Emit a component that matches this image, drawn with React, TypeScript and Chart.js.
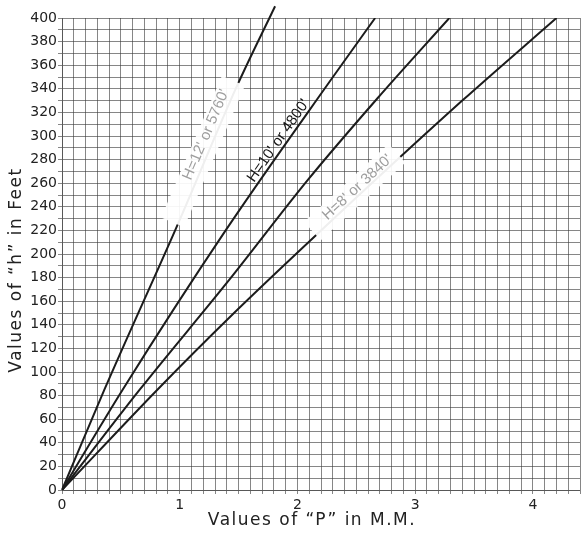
import React, { useEffect, useRef } from "react";
import { Chart, registerables } from "chart.js";

Chart.register(...registerables);

// Axis ranges / ticks
const xMin = 0;
const xMax = 4.4;
const xStep = 0.1;
const yMin = 0;
const yMax = 400;
const yStep = 10;
const yLabelEvery = 20;

// Axis titles
const xTitle = "Values of \u201CP\u201D in M.M.";
const yTitle = "Values of \u201Ch\u201D in Feet";

// Curve data (P in M.M. vs h in feet)
const h12P = [0, 0.36, 1.0, 1.48, 1.81];
const h12H = [0, 85, 229, 341, 410];
const h10P = [0, 0.515, 1.39, 2.28, 2.66];
const h10H = [0, 85, 220, 347, 400];
const h9P = [0, 0.66, 1.42, 2.09, 2.68, 3.29];
const h9H = [0, 85, 178, 263, 332, 400];
const h8P = [0, 0.81, 1.42, 2.18, 3.4, 4.2];
const h8H = [0, 85, 146, 218, 330, 400];

// Line labels
const labelTexts = ["H=12' or 5760'", "H=10' or 4800'", "H=8' or 3840'"];
const labelLineIdx = [0, 1, 3];
const labelAtH = [298, 292, 252];
const labelStripFrom = [225, null, 216];
const labelStripTo = [345, null, 282];

const lines = [
  { p: h12P, h: h12H },
  { p: h10P, h: h10H },
  { p: h9P, h: h9H },
  { p: h8P, h: h8H },
];

function interpP(ps: number[], hs: number[], h: number) {
  for (let i = 1; i < hs.length; i++) {
    if (h <= hs[i]) {
      const t = (h - hs[i - 1]) / (hs[i] - hs[i - 1]);
      return ps[i - 1] + t * (ps[i] - ps[i - 1]);
    }
  }
  const n = hs.length - 1;
  const t = (h - hs[n - 1]) / (hs[n] - hs[n - 1]);
  return ps[n - 1] + t * (ps[n] - ps[n - 1]);
}

const labelStyles = [
  { color: "#9e9e9e", off: 5, font: "15px 'Liberation Sans'" },
  { color: "#141414", off: 4, font: "15px 'Liberation Sans'" },
  { color: "#9e9e9e", off: 3, font: "15px 'Liberation Sans'" },
];

const labelPlugin = {
  id: "lineLabels",
  afterDatasetsDraw(chart: any) {
    const { ctx, scales } = chart;
    const xs = scales.x;
    const ys = scales.y;
    labelTexts.forEach((text, i) => {
      const ln = lines[labelLineIdx[i]];
      const pt = (h: number) => ({
        x: xs.getPixelForValue(interpP(ln.p, ln.h, h)),
        y: ys.getPixelForValue(h),
      });
      const sf = labelStripFrom[i];
      const st = labelStripTo[i];
      if (sf !== null && st !== null) {
        const a = pt(sf);
        const b = pt(st);
        const ang = Math.atan2(b.y - a.y, b.x - a.x);
        const len = Math.hypot(b.x - a.x, b.y - a.y);
        ctx.save();
        ctx.translate(a.x, a.y);
        ctx.rotate(ang);
        ctx.fillStyle = "rgba(255,255,255,0.93)";
        ctx.fillRect(0, -18, len, 25);
        ctx.restore();
      }
      const c = pt(labelAtH[i]);
      const c1 = pt(labelAtH[i] - 15);
      const c2 = pt(labelAtH[i] + 15);
      const ang = Math.atan2(c2.y - c1.y, c2.x - c1.x);
      const st2 = labelStyles[i];
      ctx.save();
      ctx.translate(c.x, c.y);
      ctx.rotate(ang);
      ctx.font = st2.font;
      ctx.fillStyle = st2.color;
      ctx.textAlign = "center";
      ctx.textBaseline = "alphabetic";
      ctx.fillText(text, 0, -st2.off);
      ctx.restore();
    });
  },
};

const titlePlugin = {
  id: "axisTitles",
  afterDraw(chart: any) {
    const { ctx, chartArea } = chart;
    ctx.save();
    ctx.font = "17px 'DejaVu Sans'";
    ctx.fillStyle = "#222";
    ctx.textAlign = "center";
    ctx.textBaseline = "middle";
    try {
      (ctx as any).letterSpacing = "1.5px";
    } catch (e) {}
    ctx.fillText(xTitle, chartArea.left + 250, 521);
    ctx.translate(17, 270);
    ctx.rotate(-Math.PI / 2);
    ctx.fillText(yTitle, 0, 0);
    ctx.restore();
  },
};

export default function App() {
  const ref = useRef<HTMLCanvasElement | null>(null);
  useEffect(() => {
    if (!ref.current) return;
    const gridColor = "rgba(60,60,60,0.62)";
    const tickFont = { family: "'DejaVu Sans'", size: 14 };
    const chart = new Chart(ref.current, {
      type: "line",
      data: {
        datasets: lines.map((ln, i) => ({
          data: ln.p.map((p, j) => ({ x: p, y: ln.h[j] })),
          borderColor: "#1c1c1c",
          borderWidth: 2,
          pointRadius: 0,
          cubicInterpolationMode: "monotone",
          fill: false,
          clip: i === 0 ? false : undefined,
        })) as any,
      },
      options: {
        animation: false,
        responsive: true,
        maintainAspectRatio: false,
        layout: { padding: { top: 18, left: 0, right: 0, bottom: 0 } },
        plugins: {
          legend: { display: false },
          tooltip: { enabled: false },
        },
        scales: {
          x: {
            type: "linear",
            min: xMin,
            max: xMax,
            ticks: {
              stepSize: xStep,
              autoSkip: false,
              maxRotation: 0,
              color: "#222",
              font: tickFont,
              padding: 3,
              callback: (v: any) => {
                const n = Number(v);
                return Math.abs(n - Math.round(n)) < 1e-6 ? String(Math.round(n)) : "";
              },
            },
            grid: { color: gridColor, lineWidth: 1, tickLength: 4 },
            border: { color: gridColor },
            title: { display: false },
            afterFit: (s: any) => {
              s.height = 44;
            },
          },
          y: {
            type: "linear",
            min: yMin,
            max: yMax,
            ticks: {
              stepSize: yStep,
              autoSkip: false,
              color: "#222",
              font: tickFont,
              padding: 1,
              callback: (v: any) => {
                const n = Math.round(Number(v));
                return n % yLabelEvery === 0 ? String(n) : "";
              },
            },
            grid: { color: gridColor, lineWidth: 1, tickLength: 4 },
            border: { color: gridColor },
            title: { display: false },
            afterFit: (s: any) => {
              s.width = 62;
            },
          },
        },
      } as any,
      plugins: [labelPlugin, titlePlugin],
    });
    return () => chart.destroy();
  }, []);
  return (
    <div
      style={{
        position: "fixed",
        left: 0,
        top: 0,
        width: 583,
        height: 534,
        background: "#fff",
      }}
    >
      <canvas ref={ref} />
    </div>
  );
}
